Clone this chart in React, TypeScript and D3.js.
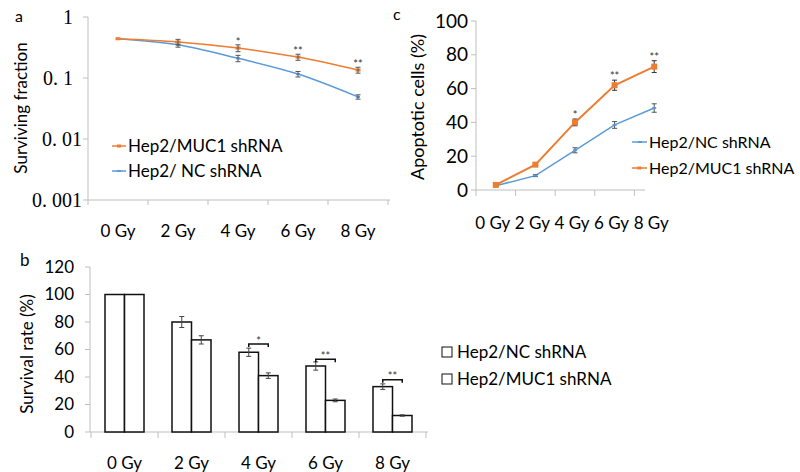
import React from "react";
import * as d3 from "d3";

// ---------- data ----------
const doses = ["0 Gy", "2 Gy", "4 Gy", "6 Gy", "8 Gy"];

// panel a: surviving fraction (log)
const survFracMUC1 = [0.44, 0.39, 0.31, 0.22, 0.135];
const survFracMUC1Err = [0, 0.04, 0.04, 0.025, 0.015];
const survFracNC = [0.44, 0.35, 0.21, 0.116, 0.049];
const survFracNCErr = [0, 0.03, 0.025, 0.012, 0.004];
const survFracStars = ["", "", "*", "**", "**"];
const logTicks = [1, 0.1, 0.01, 0.001];
const logTickLabels = ["1", "0. 1", "0. 01", "0. 001"];

// panel b: survival rate bars
const rateNC = [100, 80, 58, 48, 33];
const rateNCErr = [0, 4, 3, 3, 2];
const rateMUC1 = [100, 67, 41, 23, 12];
const rateMUC1Err = [0, 3, 2, 1, 0.5];
const rateBracket = [null, null, 64, 53, 38];
const rateStars = ["", "", "*", "**", "**"];
const rateTicks = [0, 20, 40, 60, 80, 100, 120];

// panel c: apoptotic cells
const apoNC = [2.5, 8.5, 23.5, 38.5, 48.5];
const apoNCErr = [0.5, 0.6, 1.5, 2, 2.5];
const apoMUC1 = [3, 15, 40, 62, 73];
const apoMUC1Err = [0.5, 1, 2, 3, 3.5];
const apoStars = ["", "", "*", "**", "**"];
const apoTicks = [0, 20, 40, 60, 80, 100];

const ORANGE = "#ED7D31";
const BLUE = "#5B9BD5";
const AXIS = "#BFBFBF";
const ERR = "#404040";
const FONT = "Lato, 'Open Sans', sans-serif";
const SERIF = "'Liberation Serif', serif";

function ErrBar({ x, y0, y1, w = 3, color = ERR }: any) {
  return (
    <g stroke={color} strokeWidth={1}>
      <line x1={x} x2={x} y1={y0} y2={y1} />
      <line x1={x - w} x2={x + w} y1={y0} y2={y0} />
      <line x1={x - w} x2={x + w} y1={y1} y2={y1} />
    </g>
  );
}

function PanelA() {
  const x = d3.scaleBand().domain(doses).range([88, 388]);
  const y = d3.scaleLog().domain([0.001, 1]).range([200, 17]);
  const cx = (d: string) => (x(d) as number) + x.bandwidth() / 2;
  const line = d3
    .line<number>()
    .x((_, i) => cx(doses[i]))
    .y((v) => y(v))
    .curve(d3.curveMonotoneX);
  const boundaries = doses.map((d) => x(d) as number).concat([388]);
  return (
    <g>
      <text x={15} y={22} fontFamily={FONT} fontSize={16}>a</text>
      <line x1={88} x2={88} y1={y(1)} y2={y(0.001)} stroke={AXIS} />
      <line x1={88} x2={390} y1={200} y2={200} stroke={AXIS} />
      {logTicks.map((t, i) => (
        <g key={t}>
          <line x1={83} x2={88} y1={y(t)} y2={y(t)} stroke={AXIS} />
          <text x={i < 2 ? 73 : 82} y={y(t)} dy="0.35em" textAnchor="end" fontFamily={SERIF} fontSize={20}>
            {logTickLabels[i]}
          </text>
        </g>
      ))}
      {boundaries.map((b, i) => (
        <line key={i} x1={b} x2={b} y1={200} y2={205} stroke={AXIS} />
      ))}
      {doses.map((d) => (
        <text key={d} x={cx(d)} y={231} dy="0.35em" textAnchor="middle" fontFamily={FONT} fontSize={17}>
          {d}
        </text>
      ))}
      <text transform={`translate(21,108) rotate(-90)`} textAnchor="middle" dy="0.35em" fontFamily={FONT} fontSize={17}>
        Surviving fraction
      </text>
      <path d={line(survFracNC) || ""} fill="none" stroke={BLUE} strokeWidth={1.5} />
      <path d={line(survFracMUC1) || ""} fill="none" stroke={ORANGE} strokeWidth={1.5} />
      {survFracNC.map((v, i) => (
        <g key={"nb" + i}>
          <rect x={cx(doses[i]) - 2} y={y(v) - 1} width={4} height={2} fill={BLUE} />
          {survFracNCErr[i] > 0 && (
            <ErrBar x={cx(doses[i])} y0={y(v + survFracNCErr[i])} y1={y(v - survFracNCErr[i])} w={2.5} color="#555" />
          )}
        </g>
      ))}
      {survFracMUC1.map((v, i) => (
        <g key={"ob" + i}>
          <rect x={cx(doses[i]) - 2.5} y={y(v) - 1.5} width={5} height={3} fill={ORANGE} />
          {survFracMUC1Err[i] > 0 && (
            <ErrBar x={cx(doses[i])} y0={y(v + survFracMUC1Err[i])} y1={y(v - survFracMUC1Err[i])} w={2.5} color="#555" />
          )}
          {survFracStars[i] && (
            <text x={cx(doses[i])} y={y(v + survFracMUC1Err[i]) + 1} textAnchor="middle" fontFamily={FONT} fontSize={11} fill="#333">
              {survFracStars[i]}
            </text>
          )}
        </g>
      ))}
      <line x1={112} x2={126} y1={146} y2={146} stroke={ORANGE} strokeWidth={1.5} />
      <rect x={117} y={144.5} width={4} height={3} fill={ORANGE} />
      <text x={128} y={146} dy="0.35em" fontFamily={FONT} fontSize={17}>Hep2/MUC1 shRNA</text>
      <line x1={112} x2={126} y1={171} y2={171} stroke={BLUE} strokeWidth={1.5} />
      <rect x={117} y={170} width={4} height={2} fill={BLUE} />
      <text x={128} y={171} dy="0.35em" fontFamily={FONT} fontSize={17}>Hep2/ NC shRNA</text>
    </g>
  );
}

function PanelC() {
  const x = d3.scaleBand().domain(doses).range([476, 674]);
  const y = d3.scaleLinear().domain([0, 100]).range([190, 21]);
  const cx = (d: string) => (x(d) as number) + x.bandwidth() / 2;
  const line = d3
    .line<number>()
    .x((_, i) => cx(doses[i]))
    .y((v) => y(v));
  const boundaries = doses.map((d) => x(d) as number);
  return (
    <g>
      <text x={393} y={20} fontFamily={FONT} fontSize={16}>c</text>
      <line x1={476} x2={476} y1={y(100)} y2={y(0)} stroke={AXIS} />
      <line x1={476} x2={645} y1={190} y2={190} stroke={AXIS} />
      {apoTicks.map((t) => (
        <g key={t}>
          <line x1={471} x2={476} y1={y(t)} y2={y(t)} stroke={AXIS} />
          <text x={468} y={y(t)} dy="0.35em" textAnchor="end" fontFamily={FONT} fontSize={19}>
            {t}
          </text>
        </g>
      ))}
      {boundaries.map((b, i) => (
        <line key={i} x1={b} x2={b} y1={190} y2={196} stroke={AXIS} />
      ))}
      {doses.map((d) => (
        <text key={d} x={cx(d) - 3} y={223} dy="0.35em" textAnchor="middle" fontFamily={FONT} fontSize={17}>
          {d}
        </text>
      ))}
      <text transform={`translate(418,107) rotate(-90)`} textAnchor="middle" dy="0.35em" fontFamily={FONT} fontSize={18}>
        Apoptotic cells (%)
      </text>
      <path d={line(apoNC) || ""} fill="none" stroke={BLUE} strokeWidth={1.5} />
      <path d={line(apoMUC1) || ""} fill="none" stroke={ORANGE} strokeWidth={2} />
      {apoNC.map((v, i) => (
        <g key={"n" + i}>
          <ErrBar x={cx(doses[i])} y0={y(v + apoNCErr[i])} y1={y(v - apoNCErr[i])} w={2.5} color="#555" />
          <rect x={cx(doses[i]) - 2} y={y(v) - 1} width={4} height={2} fill={BLUE} />
        </g>
      ))}
      {apoMUC1.map((v, i) => (
        <g key={"o" + i}>
          <ErrBar x={cx(doses[i])} y0={y(v + apoMUC1Err[i])} y1={y(v - apoMUC1Err[i])} w={2.5} color="#333" />
          <rect x={cx(doses[i]) - 3} y={y(v) - 3} width={6} height={6} fill={ORANGE} />
          {apoStars[i] && (
            <text x={cx(doses[i])} y={y(v + apoMUC1Err[i])} textAnchor="middle" fontFamily={FONT} fontSize={11} fill="#333">
              {apoStars[i]}
            </text>
          )}
        </g>
      ))}
      <line x1={632} x2={647} y1={142} y2={142} stroke={BLUE} strokeWidth={1.5} />
      <rect x={638} y={141} width={4} height={2} fill={BLUE} />
      <text x={649} y={142} dy="0.35em" fontFamily={FONT} fontSize={16}>Hep2/NC shRNA</text>
      <line x1={632} x2={647} y1={168} y2={168} stroke={ORANGE} strokeWidth={1.5} />
      <rect x={637.5} y={166.5} width={4} height={3} fill={ORANGE} />
      <text x={649} y={168} dy="0.35em" fontFamily={FONT} fontSize={16}>Hep2/MUC1 shRNA</text>
    </g>
  );
}

function PanelB() {
  const x = d3.scaleBand().domain(doses).range([91, 426]);
  const y = d3.scaleLinear().domain([0, 120]).range([432, 267]);
  const bw = 19.5;
  const cx = (d: string) => (x(d) as number) + x.bandwidth() / 2;
  const boundaries = doses.map((d) => x(d) as number).concat([426]);
  return (
    <g>
      <text x={20} y={266} fontFamily={FONT} fontSize={17}>b</text>
      <line x1={90} x2={90} y1={y(120)} y2={y(0)} stroke={AXIS} />
      <line x1={90} x2={428} y1={432} y2={432} stroke={AXIS} />
      {rateTicks.map((t) => (
        <g key={t}>
          <line x1={85} x2={90} y1={y(t)} y2={y(t)} stroke={AXIS} />
          <text x={74} y={y(t)} dy="0.35em" textAnchor="end" fontFamily={FONT} fontSize={17}>
            {t}
          </text>
        </g>
      ))}
      {boundaries.map((b, i) => (
        <line key={i} x1={b} x2={b} y1={432} y2={438} stroke={AXIS} />
      ))}
      {doses.map((d) => (
        <text key={d} x={cx(d)} y={463} dy="0.35em" textAnchor="middle" fontFamily={FONT} fontSize={17}>
          {d}
        </text>
      ))}
      <text transform={`translate(27,354) rotate(-90)`} textAnchor="middle" dy="0.35em" fontFamily={FONT} fontSize={17}>
        Survival rate (%)
      </text>
      {doses.map((d, i) => {
        const c = cx(d);
        return (
          <g key={d}>
            <rect x={c - bw} y={y(rateNC[i])} width={bw} height={y(0) - y(rateNC[i])} fill="#fff" stroke="#111" strokeWidth={1.5} />
            <rect x={c} y={y(rateMUC1[i])} width={bw} height={y(0) - y(rateMUC1[i])} fill="#fff" stroke="#111" strokeWidth={1.5} />
            {rateNCErr[i] > 0 && (
              <ErrBar x={c - bw / 2} y0={y(rateNC[i] + rateNCErr[i])} y1={y(rateNC[i] - rateNCErr[i])} w={2.5} color="#444" />
            )}
            {rateMUC1Err[i] > 0 && (
              <ErrBar x={c + bw / 2} y0={y(rateMUC1[i] + rateMUC1Err[i])} y1={y(rateMUC1[i] - rateMUC1Err[i])} w={2.5} color="#444" />
            )}
            {rateBracket[i] != null && (
              <g>
                <path
                  d={`M${c - bw / 2},${y(rateBracket[i] as number) + 3} V${y(rateBracket[i] as number)} H${c + bw / 2} V${y(rateBracket[i] as number) + 3}`}
                  fill="none"
                  stroke="#111"
                  strokeWidth={1.5}
                />
                <text x={c} y={y(rateBracket[i] as number) + 0.5} textAnchor="middle" fontFamily={FONT} fontSize={11} fill="#333">
                  {rateStars[i]}
                </text>
              </g>
            )}
          </g>
        );
      })}
      <rect x={442} y={347} width={10} height={10} fill="#fff" stroke="#111" strokeWidth={1} />
      <text x={457} y={352} dy="0.35em" fontFamily={FONT} fontSize={17}>Hep2/NC shRNA</text>
      <rect x={442} y={374} width={10} height={10} fill="#fff" stroke="#111" strokeWidth={1} />
      <text x={457} y={379} dy="0.35em" fontFamily={FONT} fontSize={17}>Hep2/MUC1 shRNA</text>
    </g>
  );
}

export default function App() {
  return (
    <svg
      width={800}
      height={472}
      viewBox="0 0 800 472"
      style={{ position: "absolute", left: 0, top: 0, background: "#fff" }}
    >
      <rect width={800} height={472} fill="#fff" />
      <PanelA />
      <PanelC />
      <PanelB />
    </svg>
  );
}
